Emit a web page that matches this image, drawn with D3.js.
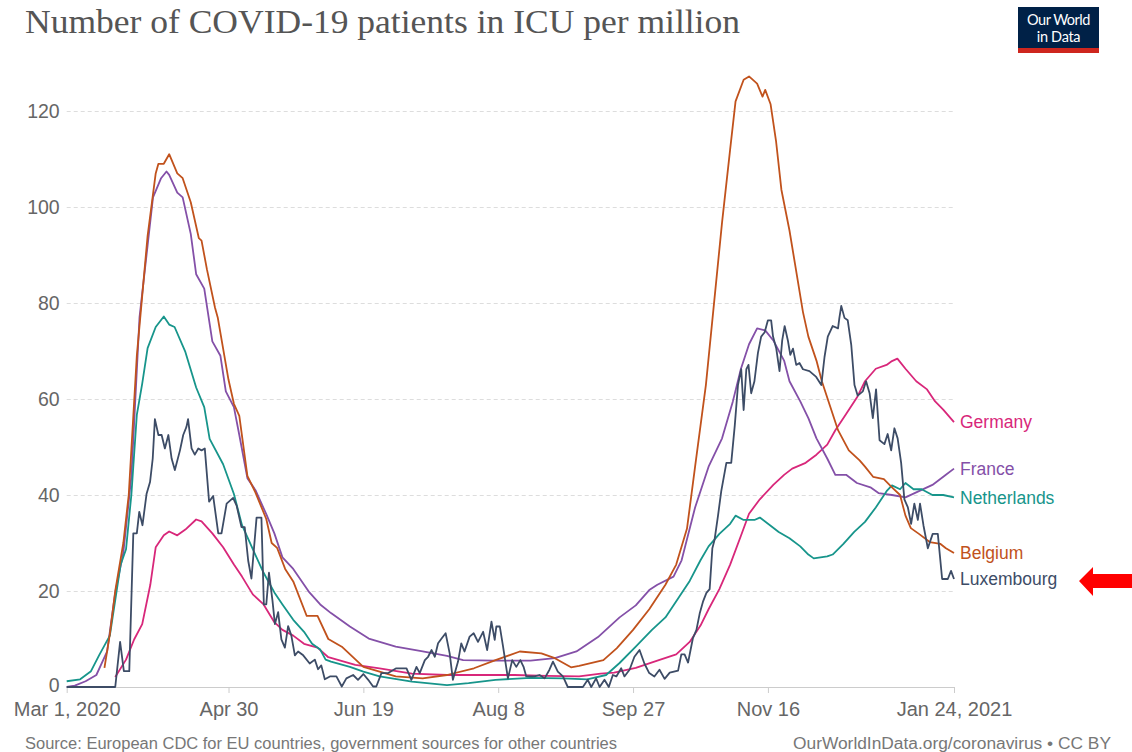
<!DOCTYPE html>
<html>
<head>
<meta charset="utf-8">
<script src="https://cdn.jsdelivr.net/npm/d3@7"></script>
<style>
  body { margin: 0; background: #fff; }
  svg { display: block; }
  .tick text { font-family: "Liberation Sans", Arial, sans-serif; }
</style>
</head>
<body>
<script>
// values, as [days since Mar 1 2020, ICU patients per million]
var belgium = [[14,4],[16,11],[18,20],[21,30],[23,40],[26,69],[30,94],[33,107],[34,109],[36,109],[38,111],[41,107],[43,106],[46,101],[49,93.5],[50,93],[52,87],[55,79],[56,77],[60,64],[62,59],[64,56.5],[67,44],[70,40.5],[74,35],[76,30],[78,29],[81,24.6],[84,22],[89,14.8],[93,14.8],[97,10],[102,8.4],[110,4.2],[122,2.2],[132,1.8],[141,2.5],[151,3.9],[159,5.6],[168,7.4],[176,7],[181,6],[187,4.1],[190,4.4],[199,5.6],[204,8.1],[210,11.9],[216,16.2],[222,21.3],[226,25.5],[230,33],[233,45.9],[237,62.9],[240,79.8],[243,96.8],[246,112],[248,122],[251,126.5],[253,127.2],[256,125.7],[258,123],[259,124.4],[261,121.4],[263,113.8],[265,103.6],[268,95.1],[270,88.3],[273,78.1],[275,73],[278,68],[280,63.7],[283,58.6],[286,53.5],[290,49.3],[294,47.2],[296,45.9],[299,43.8],[303,43.3],[306,41.6],[309,40],[311,35.7],[313,33.1],[316,31.9],[320,30.2],[324,29.8],[326,28.9],[329,27.9]];

var france = [[0,0],[3,0.3],[7,1.2],[11,2.5],[15,7.4],[18,19.7],[21,28],[24,44],[27,77],[30,92],[32,102],[35,106],[37,107.4],[38,106.7],[41,103],[43,102],[46,94.4],[48,86],[51,83],[54,72],[57,69],[59,61.6],[62,58.3],[64,52.5],[67,43.5],[70,41],[74,36],[77,32],[80,27],[84,24.6],[90,19.7],[94,17.2],[98,15.4],[105,12.6],[112,10.1],[122,8.4],[132,7.4],[141,6.5],[147,5.6],[159,5.5],[172,5.5],[181,6],[189,7.4],[197,10.4],[205,14.5],[211,17],[216,20.2],[219,21.3],[225,23],[228,26.4],[233,37.4],[238,45.9],[243,51.8],[247,59.5],[250,66.3],[253,71.4],[256,74.7],[259,74.3],[262,72.2],[266,68],[268,63.7],[272,59.5],[275,56],[278,51.8],[282,47.6],[285,44.2],[289,44.2],[293,42.5],[298,41.6],[301,40.4],[306,40],[311,39.5],[316,40.8],[321,42.1],[326,44.2],[329,45.5]];

var netherlands = [[0,1.2],[5,1.6],[9,3.3],[12,6.6],[16,10.7],[20,25.5],[22,28.7],[24,40.2],[26,56.7],[28,63.2],[30,70.6],[33,75],[36,77.2],[38,75.5],[40,75],[44,69.8],[48,62.4],[51,58.3],[53,51.7],[58,46.4],[62,40.2],[65,33.7],[69,28.7],[73,23.8],[77,19.7],[80,17.2],[84,14],[88,11.5],[91,9],[94,7.8],[96,5.7],[98,5.3],[105,4.2],[110,3.2],[116,2.2],[128,1.1],[141,0.4],[149,0.8],[159,1.5],[172,1.9],[184,1.8],[193,1.6],[200,2.5],[205,5],[211,8.4],[217,11.9],[222,14.5],[227,18.7],[231,22.1],[235,26.4],[238,29.3],[242,31.9],[246,34],[248,35.7],[251,34.8],[255,34.8],[257,35.3],[261,33.6],[264,32.3],[268,31],[272,29.3],[275,27.6],[277,26.8],[282,27.2],[284,27.6],[288,29.8],[292,32.3],[296,34.4],[300,37.4],[304,40.8],[306,42],[309,41.2],[311,42.5],[314,41.2],[317,41.2],[321,40],[325,40],[329,39.5]];

var germany = [[18,2.1],[22,5.7],[25,9.9],[28,13.1],[31,21.3],[33,29.1],[36,31.6],[38,32.4],[41,31.6],[44,32.8],[48,34.9],[50,34.5],[54,32],[58,29.1],[62,25.5],[65,23],[69,19.3],[73,17.2],[77,13.5],[80,11.9],[84,10.7],[88,9],[93,8.2],[97,6.2],[107,4.6],[116,3.9],[128,2.8],[141,2.5],[153,2.5],[166,2.5],[178,2.3],[190,2.2],[198,2.8],[203,3],[211,4],[219,5.5],[226,6.8],[231,9.4],[235,12.8],[238,16.2],[242,20.4],[246,25.5],[250,31.5],[253,36.1],[257,39.1],[262,42.1],[266,44.2],[269,45.5],[274,46.7],[278,48.4],[282,50.5],[285,53.5],[289,56.9],[293,60.3],[296,63.7],[300,66.3],[304,67.1],[306,67.9],[308,68.4],[311,66.3],[315,63.7],[319,62],[322,59.5],[325,57.8],[329,55.2]];

var luxembourg = [[0,0],[18,0],[19.8,9.4],[21.2,3.3],[23.2,3.3],[24.7,32],[26,32],[26.9,36.5],[28.1,33.7],[29.6,40.2],[30.9,42.7],[31.9,47.6],[32.7,55.8],[34,52.5],[35.2,52.5],[36.4,49.7],[37.7,52.5],[38.9,47.6],[40.1,45.2],[42,49.3],[43.2,52.5],[44.4,54.2],[45,55.8],[46.3,49.7],[47.5,48.4],[48.8,49.7],[50,49.3],[51.2,49.7],[52.8,38.6],[54.3,39.8],[56.2,32],[57.4,32],[59.3,38.2],[61.7,39.4],[63,37.8],[64.8,33.3],[66,33.3],[67.3,26.3],[68.5,22.6],[70.4,35.3],[72.2,35.3],[73.1,17.2],[74,17.2],[75,23.8],[76.3,18],[77.2,13.1],[78.4,15.6],[79.6,9.9],[80.9,8.2],[82.1,12.7],[83.3,10.7],[84.6,6.6],[85.8,7.4],[87.7,6.6],[90.1,4.9],[92,5.7],[93.2,3.7],[94.4,4.5],[95.7,1.6],[97.6,2.2],[100,2.2],[102,0.1],[103.7,1.8],[106.2,2.5],[108,1.5],[110,2.7],[111.8,1.5],[113.6,0.1],[114.8,0.1],[116.7,2.9],[119.2,2.9],[122.2,3.9],[126,3.9],[127.8,1.5],[129.7,4.2],[130.9,2.9],[132.8,5.6],[134,6.3],[135.3,7.7],[136.5,6.3],[137.7,9.1],[139,10.1],[140.5,11.2],[142,7],[143.2,1.5],[145.1,5.3],[146.3,9.1],[147.5,7.4],[149.4,10.5],[150.9,11.2],[152.5,9.4],[154.4,11.5],[155.9,7.7],[157.5,13.6],[158.7,9.8],[159.3,12.6],[160.6,12.6],[161.8,8.4],[163.6,1.8],[165.2,5.6],[166.7,4.2],[168.2,5.6],[169.4,4.2],[170.4,2.2],[173.5,2.2],[175.3,2.5],[177.2,1.8],[179,3.6],[180.3,5.3],[182.1,3.2],[184,2.2],[185.8,0],[191.4,0],[193.2,1.5],[194.5,0],[196.3,1.8],[197.6,0],[199.4,1.5],[201,0],[202.5,2.5],[203.8,2.2],[205.6,3.9],[206.8,2.2],[208.7,3.6],[210.5,6.3],[212.4,7.7],[214.2,4.9],[216,2.9],[217.9,2.2],[219.8,3.6],[221.7,1.7],[223.6,3],[226.7,3.4],[227.9,6.8],[229.1,6.8],[230.4,5.1],[232.2,10.2],[233.5,11.9],[234.7,15.3],[236,17.9],[237.2,19.6],[238.4,20.4],[239.4,28.9],[240.2,30.6],[241.5,35.7],[242.7,40.8],[244.6,46.7],[246.4,46.7],[247.7,54.4],[248.9,62.9],[250.1,66.2],[251,57.7],[252,66.2],[252.8,67.1],[253.8,61.2],[255,63.7],[256.3,69.6],[257.5,73],[258.8,73.9],[260,76.4],[261.2,76.4],[261.9,73],[263.1,70.5],[264.3,65.8],[265.3,72.2],[266.2,75.2],[267.4,72.2],[268.3,69.2],[269.3,70.5],[270.5,67.1],[271.7,67.5],[273,66.2],[275.4,65.8],[277.9,64.6],[279.8,62.9],[281,68.8],[282.2,73],[284,75.2],[286,74.7],[286.5,76.9],[287.2,79.4],[288.4,76.9],[289.6,76.4],[290.9,71.3],[292.1,62.9],[293.3,60.7],[295.2,61.6],[296.4,63.7],[297.7,61.2],[298.9,56],[300.1,62],[301.4,51.4],[303.2,50.6],[304.4,52.7],[305.7,49.3],[306.9,53.9],[308.1,51.8],[309.4,46.7],[310.6,39.1],[311.9,37.4],[313.1,34],[314.3,38.2],[315.6,34.8],[316.4,38.2],[317.7,33.6],[319.3,28.9],[321.1,31.9],[323,31.9],[324.6,22.5],[326.7,22.5],[327.9,24.2],[329,22.5]];

var countries = ["Germany", "France", "Netherlands", "Belgium", "Luxembourg"];
var seriesData = [germany, france, netherlands, belgium, luxembourg];
var colors = ["#d8277a", "#8450a8", "#17958b", "#c1521c", "#3d4c66"];

var yTicks = [0, 20, 40, 60, 80, 100, 120];
var xTickDays = [0, 60, 110, 160, 210, 260, 329];
var xTickLabels = ["Mar 1, 2020", "Apr 30", "Jun 19", "Aug 8", "Sep 27", "Nov 16", "Jan 24, 2021"];

var W = 1132, H = 752;
var start = Date.UTC(2020, 2, 1);
var toDate = d => new Date(start + d * 864e5);

var svg = d3.select("body").append("svg")
    .attr("width", W)
    .attr("height", H);

var x = d3.scaleUtc()
    .domain([toDate(0), toDate(329)])
    .range([66.7, 954]);

var y = d3.scaleLinear()
    .domain([0, 120])
    .range([687, 111]);

// title
svg.append("text")
    .attr("x", 25)
    .attr("y", 33)
    .attr("font-family", "'Liberation Serif', 'DejaVu Serif', serif")
    .attr("font-size", 33)
    .attr("fill", "#555")
    .attr("textLength", 715)
    .attr("lengthAdjust", "spacingAndGlyphs")
    .text("Number of COVID-19 patients in ICU per million");

// logo
var logo = svg.append("g");
logo.append("rect").attr("x", 1018).attr("y", 7).attr("width", 81).attr("height", 46).attr("fill", "#002147");
logo.append("rect").attr("x", 1018).attr("y", 48).attr("width", 81).attr("height", 5).attr("fill", "#ce261e");
logo.append("text").attr("x", 1058.5).attr("y", 25).attr("text-anchor", "middle")
    .attr("font-family", "Lato, 'Liberation Sans', sans-serif").attr("font-size", 14.5).attr("fill", "#fff")
    .attr("letter-spacing", -0.5).text("Our World");
logo.append("text").attr("x", 1058.5).attr("y", 42).attr("text-anchor", "middle")
    .attr("font-family", "Lato, 'Liberation Sans', sans-serif").attr("font-size", 14.5).attr("fill", "#fff")
    .attr("letter-spacing", -0.3).text("in Data");

// y axis with dashed gridlines
var yAxis = svg.append("g")
    .attr("transform", "translate(66.7,0)")
    .call(d3.axisLeft(y).tickValues(yTicks).tickSize(-(954 - 66.7)).tickPadding(7));
yAxis.select(".domain").remove();
yAxis.selectAll(".tick line")
    .attr("stroke", "#ddd")
    .attr("stroke-dasharray", "4,3");
yAxis.selectAll(".tick text")
    .attr("font-size", 19.5)
    .attr("fill", "#666");
yAxis.selectAll(".tick").filter(d => d === 0).select("line").remove();
yAxis.selectAll(".tick").filter(d => d === 0).select("text").attr("dy", "0.25em");

// x axis
var xAxis = svg.append("g")
    .attr("transform", "translate(0,687)")
    .call(d3.axisBottom(x)
        .tickValues(xTickDays.map(toDate))
        .tickFormat((d, i) => xTickLabels[i])
        .tickSize(6)
        .tickPadding(9));
xAxis.select(".domain").attr("stroke", "#ccc").attr("d", "M66.7,0.5H954");
xAxis.selectAll(".tick line").attr("stroke", "#ccc");
xAxis.selectAll(".tick text")
    .attr("font-size", 20)
    .attr("fill", "#666");

// lines
var line = d3.line()
    .x(d => x(toDate(d[0])))
    .y(d => y(d[1]));

svg.append("g")
    .selectAll("path")
    .data(seriesData)
    .enter().append("path")
    .attr("fill", "none")
    .attr("stroke", (d, i) => colors[i])
    .attr("stroke-width", 1.8)
    .attr("stroke-linejoin", "round")
    .attr("d", line);

// end labels
svg.append("g")
    .selectAll("text")
    .data(seriesData)
    .enter().append("text")
    .attr("x", 960)
    .attr("y", d => y(d[d.length - 1][1]))
    .attr("dy", "0.35em")
    .attr("font-family", "'Liberation Sans', Arial, sans-serif")
    .attr("font-size", 17.5)
    .attr("fill", (d, i) => colors[i])
    .text((d, i) => countries[i]);

// footer
svg.append("text")
    .attr("x", 25).attr("y", 749)
    .attr("font-family", "'Liberation Sans', Arial, sans-serif")
    .attr("font-size", 16).attr("fill", "#777")
    .attr("textLength", 592).attr("lengthAdjust", "spacingAndGlyphs")
    .text("Source: European CDC for EU countries, government sources for other countries");
svg.append("text")
    .attr("x", 793).attr("y", 749)
    .attr("font-family", "'Liberation Sans', Arial, sans-serif")
    .attr("font-size", 16).attr("fill", "#777")
    .attr("textLength", 318).attr("lengthAdjust", "spacingAndGlyphs")
    .text("OurWorldInData.org/coronavirus \u2022 CC BY");

// red arrow pointing at Luxembourg
svg.append("path")
    .attr("fill", "#ff0000")
    .attr("d", "M1079,581 L1093,567 L1093,574 L1132,574 L1132,588 L1093,588 L1093,596 Z");
</script>
</body>
</html>
